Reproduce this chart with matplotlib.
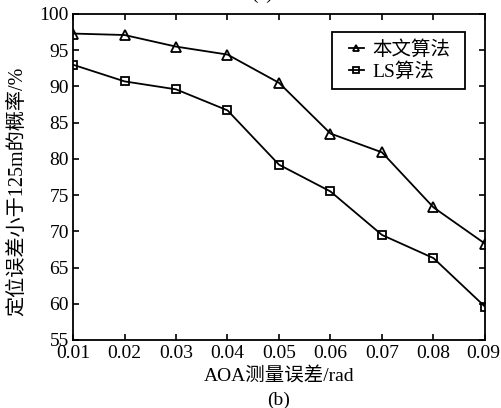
import matplotlib
matplotlib.use("Agg")
import matplotlib.pyplot as plt
import matplotlib.transforms as mtransforms
from matplotlib.patches import Rectangle
from matplotlib.ticker import MultipleLocator

plt.rcParams['font.family'] = ['Liberation Serif', 'Noto Sans CJK SC']

aoa_error = [0.01, 0.02, 0.03, 0.04, 0.05, 0.06, 0.07, 0.08, 0.09]
proposed = [97.3, 97.1, 95.5, 94.4, 90.5, 83.5, 80.9, 73.3, 68.3]
ls_method = [93.0, 90.7, 89.6, 86.7, 79.2, 75.5, 69.5, 66.3, 59.6]
x_ticks = [0.01, 0.02, 0.03, 0.04, 0.05, 0.06, 0.07, 0.08, 0.09]
x_tick_labels = ['0.01', '0.02', '0.03', '0.04', '0.05', '0.06', '0.07', '0.08', '0.09']

FS = 14

fig = plt.figure(figsize=(5.02, 4.08), dpi=100)
ax = fig.add_axes([73 / 502, 68 / 408, 412 / 502, 326 / 408])

ax.plot(aoa_error, proposed, color='black', lw=1.3, marker='^', ms=6.5,
        mfc='none', mec='black', mew=1.3, label='本文算法')
ax.plot(aoa_error, ls_method, color='black', lw=1.3, marker='s', ms=5.5,
        mfc='none', mec='black', mew=1.3, label='LS算法')

ax.set_xlim(0.01, 0.09)
ax.set_ylim(55, 100)
ax.set_xticks(x_ticks)
ax.set_xticklabels(x_tick_labels)
ax.yaxis.set_major_locator(MultipleLocator(5))
ax.tick_params(direction='in', top=True, right=True, length=4, width=1.2,
               labelsize=FS)
ax.tick_params(axis='x', pad=3.5)
ax.tick_params(axis='y', pad=3)
for sp in ax.spines.values():
    sp.set_linewidth(1.3)

# nudge the last x tick label so it stays inside the canvas
last = ax.get_xticklabels()[-1]
last.set_transform(last.get_transform() +
                   mtransforms.ScaledTranslation(-2 / 100, 0, fig.dpi_scale_trans))

ax.set_xlabel('AOA测量误差/rad', fontsize=FS)
ax.xaxis.set_label_coords(0.5, -0.085)
ax.set_ylabel('定位误差小于125m的概率/%', fontsize=FS + 0.5)
ax.yaxis.set_label_coords(-0.112, 0.455)

# legend box with generous side margins
box = Rectangle((0.629, 0.770), 0.951 - 0.629, 0.945 - 0.770,
                transform=ax.transAxes, facecolor='white', edgecolor='black',
                lw=1.3, zorder=4)
ax.add_patch(box)
leg = ax.legend(loc='center', bbox_to_anchor=(0.792, 0.857), fontsize=FS,
                handlelength=0.8, handletextpad=0.4, borderpad=0,
                borderaxespad=0, labelspacing=0.2, frameon=False,
                markerscale=0.75)
leg.set_zorder(5)

fig.text(279 / 502, 1 - 400 / 408, '(b)', ha='center', va='center', fontsize=FS)
fig.text(262 / 502, 1.0 + 0.014, '(a)', ha='center', va='center', fontsize=FS)

fig.savefig('out.png', dpi=100)
